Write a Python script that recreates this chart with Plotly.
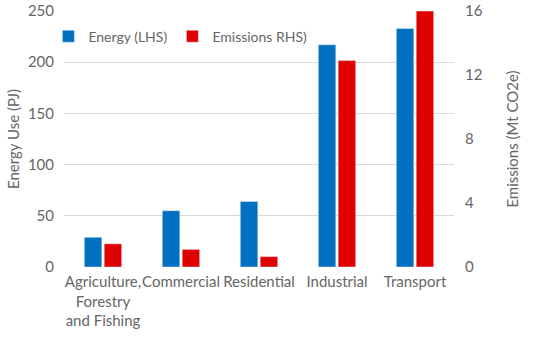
import plotly.graph_objects as go

categories = ["Agriculture,<br>Forestry<br>and Fishing", "Commercial", "Residential", "Industrial", "Transport"]
energy_pj = [29, 55, 64, 217, 233]
emissions_mt = [1.45, 1.1, 0.65, 12.9, 16.0]

font_family = "Lato, Noto Sans, sans-serif"
grey = "#666666"

fig = go.Figure()
fig.add_trace(go.Bar(x=categories, y=energy_pj, name="Energy (LHS)",
                     marker_color="#0070C0", offsetgroup="1", yaxis="y"))
fig.add_trace(go.Bar(x=categories, y=emissions_mt, name="Emissions RHS)",
                     marker_color="#E00000", offsetgroup="2", yaxis="y2"))

fig.update_layout(
    width=550, height=341,
    margin=dict(l=64, r=96, t=11, b=74, autoexpand=False),
    paper_bgcolor="white", plot_bgcolor="white",
    barmode="group", bargap=0.49, bargroupgap=0.12,
    font=dict(family=font_family, size=15, color=grey),
    showlegend=True,
    legend=dict(orientation="h", x=-0.04, y=0.9, xanchor="left", yanchor="middle",
                bgcolor="rgba(0,0,0,0)", font=dict(size=14, color=grey),
                itemwidth=30, tracegroupgap=0),
    xaxis=dict(showgrid=False, showline=False, ticks="", automargin=False,
               tickangle=0, ticklabelstandoff=4,
               tickfont=dict(size=15, color=grey)),
    yaxis=dict(range=[0, 250], tickvals=[0, 50, 100, 150, 200, 250], showgrid=True,
               gridcolor="#D9D9D9", gridwidth=1, zeroline=False, showline=False,
               automargin=False, ticklabelstandoff=9, ticklabeloverflow="allow",
               title=dict(text="Energy Use (PJ)", font=dict(size=15, color=grey), standoff=4),
               tickfont=dict(size=15, color=grey)),
    yaxis2=dict(range=[0, 16], tickvals=[0, 4, 8, 12, 16], overlaying="y", side="right",
                showgrid=False, zeroline=False, showline=False, automargin=False,
                ticklabelstandoff=10, ticklabeloverflow="allow",
                title=dict(text="Emissions (Mt CO2e)", font=dict(size=15, color=grey), standoff=25),
                tickfont=dict(size=15, color=grey)),
)

fig.write_html("out.html", config={"displayModeBar": False},
               post_script="document.body.style.margin='0';")
